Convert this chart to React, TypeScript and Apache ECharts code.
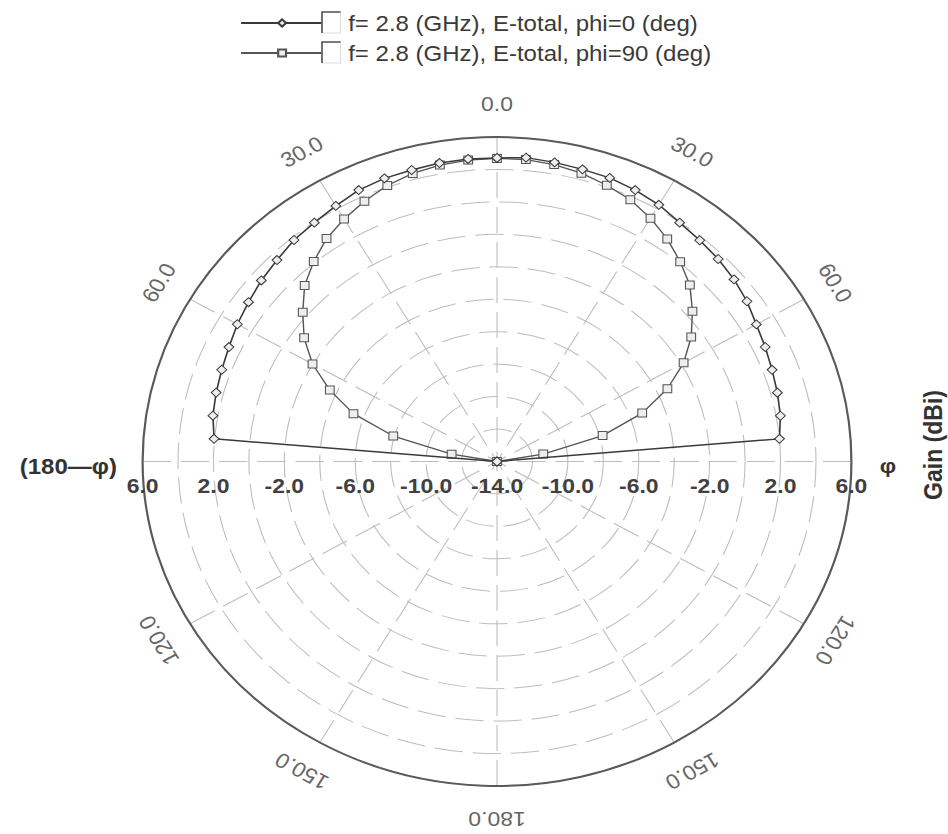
import React, { useEffect, useRef } from 'react';
import * as echarts from 'echarts';

// ---- data ----
const thetaDeg = [-90, -85, -80, -75, -70, -65, -60, -55, -50, -45, -40, -35, -30, -25, -20, -15, -10, -5, 0,
  5, 10, 15, 20, 25, 30, 35, 40, 45, 50, 55, 60, 65, 70, 75, 80, 85, 90];
const gainPhi0 = [-14, 2.03, 2.28, 2.41, 2.53, 2.69, 2.92, 3.12, 3.36, 3.56, 3.82, 3.97, 4.19, 4.46, 4.57, 4.6, 4.68, 4.72, 4.71,
  4.8, 4.72, 4.64, 4.6, 4.46, 4.27, 3.97, 3.8, 3.65, 3.46, 3.22, 2.9, 2.7, 2.52, 2.38, 2.24, 2.0, -14];
const gainPhi90 = [-14, -14, -11.4, -7.94, -5.38, -3.59, -1.98, -0.71, 0.31, 1.35, 2.09, 2.77, 3.26, 3.7, 4.1, 4.38, 4.55, 4.65, 4.68,
  4.68, 4.58, 4.4, 4.12, 3.8, 3.32, 2.75, 2.08, 1.39, 0.4, -0.62, -1.84, -3.39, -5.28, -7.83, -11.35, -14, -14];
const seriesNames = ['f= 2.8 (GHz), E-total, phi=0 (deg)', 'f= 2.8 (GHz), E-total, phi=90 (deg)'];
const radiusMin = -14;
const radiusMax = 6;
const radiusStep = 2;
const radiusTickLabels = [-14, -10, -6, -2, 2, 6];
const angleTickLabels = [0, 30, 60, 120, 150, 180, 210, 240, 300, 330];
const rightAngleLabel = 'φ';
const leftAngleLabel = '(180—φ)';
const radialAxisName = 'Gain (dBi)';

// ---- layout ----
const W0 = 868;
const H0 = 834;
const SX = 948 / W0;
const CX = 497 / SX;
const CY = 461.5;
const R = 324.5;
const FONT = '"Liberation Sans", Arial, sans-serif';

function toPolar(vals: number[]) {
  return thetaDeg.map((t, i) => [vals[i], t < 0 ? t + 360 : t]);
}

function rPix(v: number) {
  return ((v - radiusMin) / (radiusMax - radiusMin)) * R;
}

export default function App() {
  const ref = useRef<HTMLDivElement>(null);
  useEffect(() => {
    if (!ref.current) return;
    const chart = echarts.init(ref.current, undefined, { renderer: 'svg', width: W0, height: H0 });

    const graphics: any[] = [];
    // radius labels along horizontal axis
    radiusTickLabels.forEach((v) => {
      const sides = v === radiusMin ? [1] : [1, -1];
      sides.forEach((s) => {
        graphics.push({
          type: 'text',
          x: CX + s * rPix(v),
          y: CY + 24,
          z: 10,
          style: {
            text: v.toFixed(1),
            fill: '#404040',
            font: `bold 21px ${FONT}`,
            textAlign: 'center',
            textVerticalAlign: 'middle',
            align: 'center',
            verticalAlign: 'middle',
          },
        });
      });
    });
    // angle labels
    const RL = R + 33;
    angleTickLabels.forEach((t) => {
      const a = (t * Math.PI) / 180;
      const lab = (t <= 180 ? t : 360 - t).toFixed(1);
      graphics.push({
        type: 'text',
        x: CX + RL * Math.sin(a),
        y: CY - RL * Math.cos(a),
        rotation: -a,
        z: 10,
        style: {
          text: lab,
          fill: '#666666',
          font: `21px ${FONT}`,
          textAlign: 'center',
          textVerticalAlign: 'middle',
          align: 'center',
          verticalAlign: 'middle',
        },
      });
    });
    graphics.push({
      type: 'text',
      x: 888 / SX,
      y: 466,
      style: {
        text: rightAngleLabel, fill: '#333', font: `bold 21px ${FONT}`,
        textAlign: 'center', textVerticalAlign: 'middle', align: 'center', verticalAlign: 'middle',
      },
    });
    graphics.push({
      type: 'text',
      x: 117 / SX,
      y: 466,
      style: {
        text: leftAngleLabel, fill: '#333', font: `bold 22px ${FONT}`,
        textAlign: 'right', textVerticalAlign: 'middle', align: 'right', verticalAlign: 'middle',
      },
    });
    graphics.push({
      type: 'text',
      x: 933 / SX,
      y: 445,
      rotation: Math.PI / 2,
      style: {
        text: radialAxisName, fill: '#333', font: `bold 23px ${FONT}`,
        textAlign: 'center', textVerticalAlign: 'middle', align: 'center', verticalAlign: 'middle',
      },
    });
    // legend check boxes
    [23, 53].forEach((yc) => {
      const x0 = 322 / SX;
      graphics.push({
        type: 'rect',
        shape: { x: x0, y: yc - 11, width: 17, height: 21 },
        style: { fill: '#fff', stroke: '#dddddd', lineWidth: 1 },
        z: 5,
      });
      graphics.push({
        type: 'polyline',
        shape: { points: [[x0, yc + 10], [x0, yc - 11], [x0 + 17, yc - 11]] },
        style: { stroke: '#555', lineWidth: 1.5, fill: null },
        z: 6,
      });
    });

    const dash = [26, 9];
    chart.setOption({
      animation: false,
      backgroundColor: '#ffffff',
      legend: {
        orient: 'vertical',
        left: 240 / SX,
        top: 11,
        padding: 0,
        itemWidth: 82 / SX,
        itemHeight: 9,
        itemGap: 6,
        selectedMode: false,
        textStyle: { fontFamily: FONT, fontSize: 22, color: '#3a3a3a', lineHeight: 24, padding: [0, 0, 0, 18] },
        data: seriesNames,
      },
      polar: { center: [CX, CY], radius: R },
      angleAxis: {
        type: 'value',
        min: 0,
        max: 360,
        interval: 30,
        startAngle: 90,
        clockwise: true,
        axisLine: { show: true, lineStyle: { color: '#5a5a5a', width: 2 } },
        axisTick: { show: false },
        axisLabel: { show: false },
        splitLine: { show: true, lineStyle: { color: '#bdbdbd', width: 1, type: dash } },
      },
      radiusAxis: {
        type: 'value',
        min: radiusMin,
        max: radiusMax,
        interval: radiusStep,
        axisLine: { show: false },
        axisTick: { show: false },
        axisLabel: { show: false },
        splitLine: { show: true, lineStyle: { color: '#bdbdbd', width: 1, type: dash } },
      },
      series: [
        {
          type: 'line',
          name: seriesNames[0],
          coordinateSystem: 'polar',
          data: toPolar(gainPhi0),
          symbol: 'diamond',
          symbolSize: 9,
          lineStyle: { color: '#3a3a3a', width: 1.5 },
          itemStyle: { color: '#eeeeee', borderColor: '#3a3a3a', borderWidth: 1 },
          z: 4,
        },
        {
          type: 'line',
          name: seriesNames[1],
          coordinateSystem: 'polar',
          data: toPolar(gainPhi90),
          symbol: 'rect',
          symbolSize: 8,
          lineStyle: { color: '#555555', width: 1.3 },
          itemStyle: { color: '#eeeeee', borderColor: '#555555', borderWidth: 1 },
          z: 3,
        },
      ],
      graphic: graphics,
    });
    return () => chart.dispose();
  }, []);

  return (
    <div
      ref={ref}
      style={{
        position: 'absolute',
        left: 0,
        top: 0,
        width: W0,
        height: H0,
        transform: `scaleX(${SX})`,
        transformOrigin: '0 0',
      }}
    />
  );
}
